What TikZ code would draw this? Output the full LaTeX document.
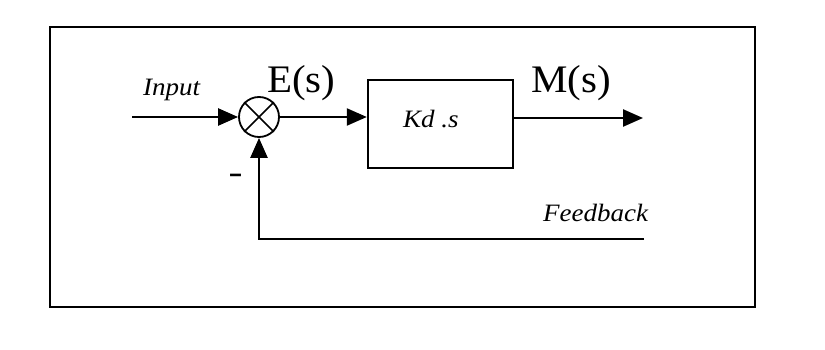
\documentclass[tikz,border=0pt]{standalone}
\usepackage{fontspec}
\setmainfont{Liberation Serif}
\usetikzlibrary{arrows.meta}
\begin{document}
\begin{tikzpicture}[x=1pt,y=-1pt,
  line/.style={line width=2.4pt,draw=black},
  tip/.style={-{Triangle[length=20pt,width=17pt]}},
  lbl/.style={inner sep=0pt,anchor=base west,font=\fontsize{25}{29}\selectfont\itshape,xscale=1.08},
  sig/.style={inner sep=0pt,anchor=base west,font=\fontsize{39}{43}\selectfont,xscale=1.05}]
\useasboundingbox (0,0) rectangle (825,350);
\fill[white] (0,0) rectangle (825,350);
% outer frame
\draw[line width=2.8pt] (50,27) rectangle (755,307);
% summing junction
\node[draw,circle,line width=1.8pt,minimum size=40pt,inner sep=0pt] (sum) at (259,117) {};
\draw[line width=1.5pt] (sum.north west) -- (sum.south east);
\draw[line width=1.5pt] (sum.north east) -- (sum.south west);
% block
\node[draw,line width=2.4pt,minimum width=145pt,minimum height=88pt,inner sep=0pt] (blk) at (440.5,124) {};
\node[lbl] (kd) at (403,128) {Kd .s};
% coordinates
\coordinate (in) at (132,117);
\coordinate (out) at (643,118);
\coordinate (fbend) at (644,239);
\coordinate (fcorner) at (259,239);
% connectors
\draw[line,tip] (in) -- (sum.west);
\draw[line,tip] (sum.east) -- (blk.west |- sum.east);
\draw[line,tip] (blk.east |- out) -- (out);
\draw[line,tip] (fbend) -- (fcorner) -- (sum.south);
% labels
\node[lbl] (input) at (143,96) {Input};
\node[sig] (es) at (267,93) {E(s)};
\node[sig] (ms) at (531,93) {M(s)};
\node[lbl] (fb) at (543,221) {Feedback};
\node[inner sep=0pt,font=\fontsize{30}{32}\selectfont\bfseries,xscale=1.4] (minus) at (235.5,178) {-};
\end{tikzpicture}
\end{document}
